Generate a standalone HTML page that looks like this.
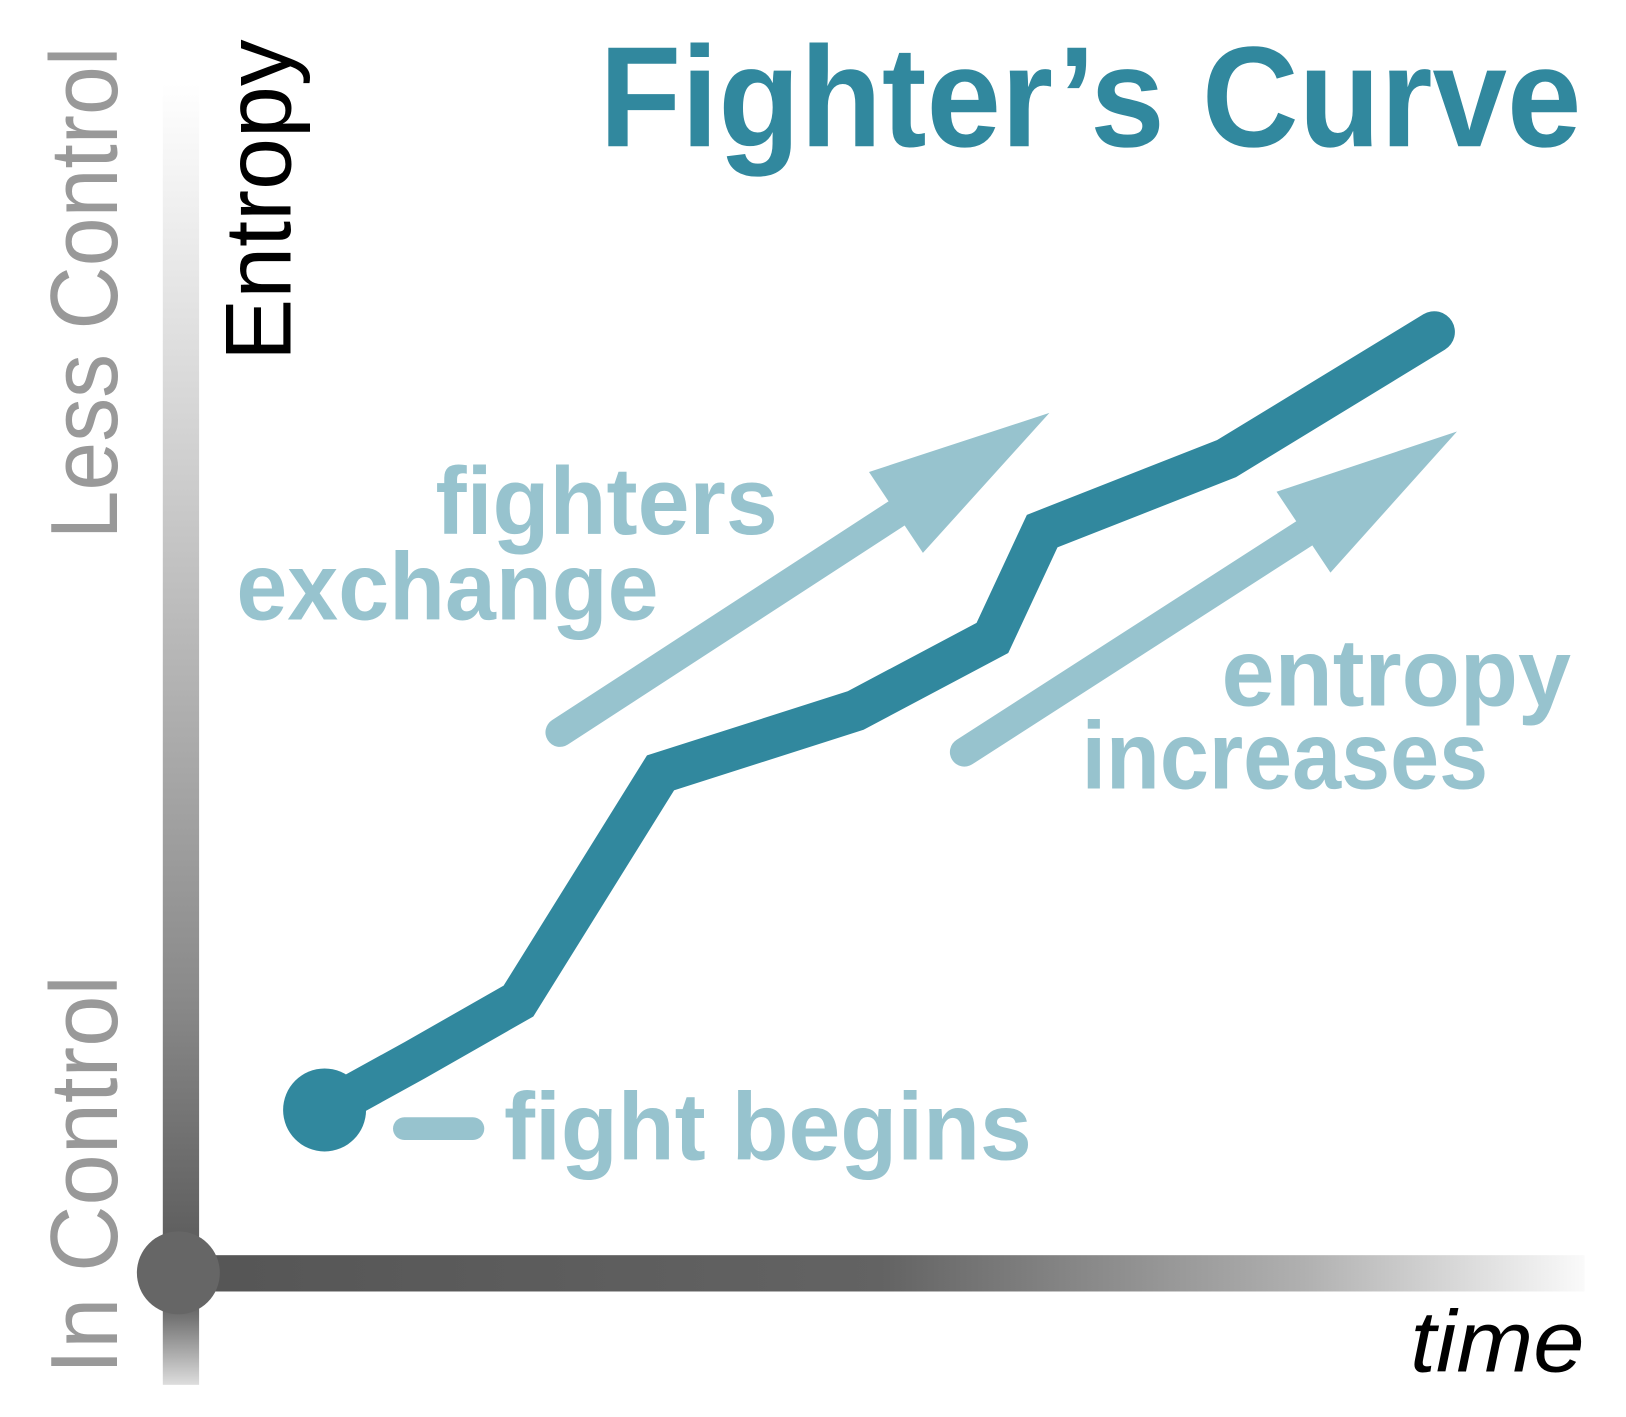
<!DOCTYPE html>
<html><head><meta charset="utf-8"><style>html,body{margin:0;padding:0;background:#fff}svg{display:block}</style></head>
<body>
<svg width="1626" height="1417" viewBox="0 0 1568 1366" preserveAspectRatio="none" xmlns="http://www.w3.org/2000/svg">
<defs>
<linearGradient id="gv" x1="0" y1="80" x2="0" y2="1335" gradientUnits="userSpaceOnUse">
<stop offset="0" stop-color="#fff"/><stop offset="0.25" stop-color="#d6d6d6"/><stop offset="0.7" stop-color="#8a8a8a"/><stop offset="0.93" stop-color="#555"/><stop offset="0.95" stop-color="#777"/><stop offset="1" stop-color="#ddd"/>
</linearGradient>
<linearGradient id="gh" x1="172" y1="0" x2="1528" y2="0" gradientUnits="userSpaceOnUse">
<stop offset="0" stop-color="#555"/><stop offset="0.5" stop-color="#636363"/><stop offset="0.8" stop-color="#b0b0b0"/><stop offset="1" stop-color="#fafafa"/>
</linearGradient>
</defs>
<rect x="157" y="80" width="35" height="1255" fill="url(#gv)"/>
<rect x="172" y="1210" width="1356" height="35" fill="url(#gh)"/>
<circle cx="172" cy="1227" r="40" fill="#666"/>

<g font-family="'Liberation Sans',sans-serif">
<text transform="translate(113,520) rotate(-90)" font-size="92" fill="#999" textLength="475" lengthAdjust="spacingAndGlyphs">Less Control</text>
<text transform="translate(113,1325) rotate(-90)" font-size="92" fill="#999" textLength="385" lengthAdjust="spacingAndGlyphs">In Control</text>
<text transform="translate(280,348) rotate(-90)" font-size="90" fill="#000" textLength="310" lengthAdjust="spacingAndGlyphs">Entropy</text>
<text x="578" y="141" font-size="138" font-weight="bold" fill="#31889e" textLength="947" lengthAdjust="spacingAndGlyphs">Fighter’s Curve</text>
<text x="1360" y="1322" font-size="84" font-style="italic" fill="#000" textLength="168" lengthAdjust="spacingAndGlyphs">time</text>
<g fill="#97c3ce" font-weight="bold" font-size="92">
<text x="420" y="515" textLength="330" lengthAdjust="spacingAndGlyphs">fighters</text>
<text x="228" y="597" textLength="407" lengthAdjust="spacingAndGlyphs">exchange</text>
<text x="1178" y="680" textLength="337" lengthAdjust="spacingAndGlyphs">entropy</text>
<text x="1043" y="760" textLength="392" lengthAdjust="spacingAndGlyphs">increases</text>
<text x="486" y="1118" textLength="509" lengthAdjust="spacingAndGlyphs">fight begins</text>
</g>
</g>

<g stroke="#97c3ce" stroke-width="28" stroke-linecap="round" fill="none">
<line x1="540" y1="706" x2="866" y2="494"/>
<line x1="930" y1="725" x2="1258" y2="514"/>
<line x1="390" y1="1088" x2="456" y2="1088" stroke-width="22"/>
</g>
<polygon points="1012,398 838,455 890,533" fill="#97c3ce"/>
<polygon points="1405,416 1231,474 1283,552" fill="#97c3ce"/>

<polyline points="313,1070 400,1022 500,965 637,745 825,685 957,615 1005,512 1183,442 1383,320" fill="none" stroke="#31889e" stroke-width="40" stroke-linecap="round" stroke-linejoin="miter"/>
<circle cx="313" cy="1070" r="40" fill="#31889e"/>
</svg>
</body></html>
